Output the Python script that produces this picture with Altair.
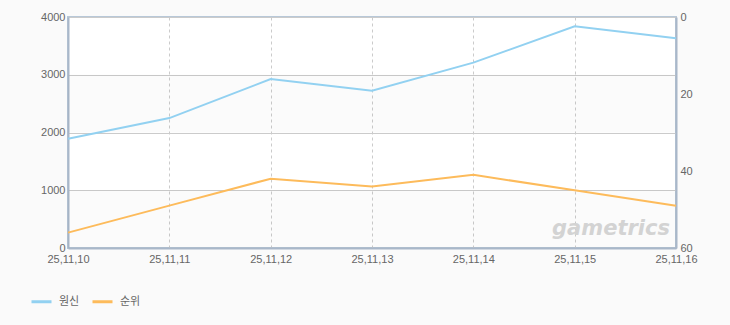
import altair as alt
import pandas as pd

dates = ["25,11,10", "25,11,11", "25,11,12", "25,11,13", "25,11,14", "25,11,15", "25,11,16"]
genshin = [1890, 2250, 2925, 2725, 3210, 3838, 3632]
rank = [56, 49, 42, 44, 41, 45, 49]
series_names = ["원신", "순위"]
colors = ["#92d1f1", "#fdbb5b"]
band_lo = [0, 2000]
band_hi = [1000, 3000]

df_a = pd.DataFrame({"date": dates, "value": genshin, "series": series_names[0]})
df_b = pd.DataFrame({"date": dates, "rank": rank, "series": series_names[1]})
df_band = pd.DataFrame({"lo": band_lo, "hi": band_hi})
df_wm = pd.DataFrame({"t": ["gametrics"]})

AX = "#a9b7c9"
GRID = "#cbcbcb"
LBL = "#666666"
FONT = "Liberation Sans"

x_enc = alt.X(
    "date:N",
    sort=dates,
    scale=alt.Scale(type="point", padding=0),
    axis=alt.Axis(
        title=None, labelAngle=0, labelPadding=5, ticks=False,
        grid=True, gridDash=[3, 3], gridColor=GRID,
        domainColor=AX, domainWidth=2,
        labelColor=LBL, labelFontSize=11, labelFont=FONT,
    ),
)

color_enc = alt.Color(
    "series:N",
    scale=alt.Scale(domain=series_names, range=colors),
    legend=alt.Legend(
        title=None, orient="none", direction="horizontal",
        legendX=-38, legendY=273,
        symbolType="stroke", symbolSize=400, symbolStrokeWidth=3,
        labelFontSize=11, labelColor=LBL, labelFont="Noto Sans CJK KR",
        labelOffset=6, columnPadding=6,
    ),
)

y_left_scale = alt.Scale(domain=[0, 4000], nice=False)

bands = alt.Chart(df_band).mark_rect(color="#000000", opacity=0.016).encode(
    y=alt.Y("lo:Q", scale=y_left_scale),
    y2="hi:Q",
)

line_a = alt.Chart(df_a).mark_line(strokeWidth=2).encode(
    x=x_enc,
    y=alt.Y(
        "value:Q",
        scale=y_left_scale,
        axis=alt.Axis(
            title=None, orient="left", values=[0, 1000, 2000, 3000, 4000],
            format="d",
            grid=True, gridColor=GRID, ticks=False, labelPadding=3,
            domainColor=AX, domainWidth=2,
            labelColor=LBL, labelFontSize=11, labelFont=FONT,
        ),
    ),
    color=color_enc,
)

wm = alt.Chart(df_wm).mark_text(
    fontSize=21, fontStyle="italic", fontWeight="bold", color="#d3d3d3",
    font="DejaVu Sans", align="center", baseline="middle",
).encode(
    x=alt.value(543), y=alt.value(212), text="t:N"
)

left = alt.layer(bands, wm, line_a)

line_b = alt.Chart(df_b).mark_line(strokeWidth=2).encode(
    x=x_enc,
    y=alt.Y(
        "rank:Q",
        scale=alt.Scale(domain=[0, 60], reverse=True, nice=False),
        axis=alt.Axis(
            title=None, orient="right", values=[0, 20, 40, 60],
            grid=False, ticks=False, labelPadding=4,
            domainColor=AX, domainWidth=2,
            labelColor=LBL, labelFontSize=11, labelFont=FONT,
        ),
    ),
    color=color_enc,
)

chart = alt.layer(left, line_b).resolve_scale(y="independent").properties(
    width=608,
    height=231,
    padding={"left": 68, "top": 17, "right": 54, "bottom": 77},
    autosize=alt.AutoSizeParams(type="none"),
    background="#fafafa",
).configure_view(
    fill="#ffffff", stroke="#b8c8d8", strokeWidth=2
)

chart.save("out.html", embed_options={"renderer": "svg", "actions": False})
